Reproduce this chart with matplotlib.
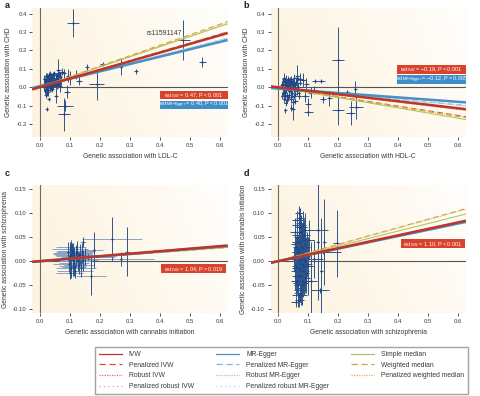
import numpy as np
import matplotlib
matplotlib.use("Agg")
import matplotlib.pyplot as plt
from matplotlib.patches import Rectangle
from matplotlib.lines import Line2D

plt.rcParams["font.family"] = ["Liberation Sans", "DejaVu Sans"]

# =====================================================
# DATA
# =====================================================

methods = ["IVW", "Penalized IVW", "Robust IVW", "Penalized robust IVW",
           "MR-Egger", "Penalized MR-Egger", "Robust MR-Egger", "Penalized robust MR-Egger",
           "Simple median", "Weighted median", "Penalized weighted median"]

x_ticks = [0.0, 0.1, 0.2, 0.3, 0.4, 0.5, 0.6]
x_tick_labels = ["0.0", "0.1", "0.2", "0.3", "0.4", "0.5", "0.6"]
y_ticks_ab = [-0.2, -0.1, 0.0, 0.1, 0.2, 0.3, 0.4]
y_tick_labels_ab = ["-0.2", "-0.1", "0.0", "0.1", "0.2", "0.3", "0.4"]
y_ticks_cd = [-0.10, -0.05, 0.0, 0.05, 0.10, 0.15]
y_tick_labels_cd = ["-0.10", "-0.05", "0.00", "0.05", "0.10", "0.15"]

# panel a: LDL-C -> CHD
a_x = [0.015, 0.018, 0.020, 0.022, 0.024, 0.025, 0.026, 0.028, 0.030, 0.031,
       0.033, 0.035, 0.036, 0.038, 0.040, 0.042, 0.044, 0.045, 0.047, 0.050,
       0.016, 0.019, 0.021, 0.023, 0.027, 0.029, 0.032, 0.034, 0.037, 0.039,
       0.041, 0.043, 0.046, 0.048, 0.017, 0.024, 0.030, 0.036, 0.026, 0.033,
       0.110, 0.479, 0.542, 0.321, 0.270, 0.190, 0.210, 0.157, 0.130, 0.084,
       0.081, 0.090, 0.100, 0.023, 0.030, 0.062, 0.075, 0.080, 0.120, 0.055,
       0.068, 0.095]
a_y = [0.010, 0.030, -0.010, 0.040, 0.020, 0.055, 0.000, 0.035, 0.015, 0.060,
       0.045, -0.005, 0.025, 0.065, 0.030, 0.050, 0.010, 0.070, 0.040, 0.020,
       0.045, -0.020, 0.025, 0.005, 0.050, -0.015, 0.065, 0.020, 0.040, 0.000,
       0.055, 0.015, 0.030, 0.075, 0.035, -0.030, 0.045, 0.010, 0.020, 0.070,
       0.350, 0.257, 0.137, 0.087, 0.112, 0.016, 0.127, 0.108, 0.036, -0.100,
       -0.147, -0.025, 0.050, -0.118, -0.065, 0.094, 0.085, 0.075, 0.068, -0.045,
       0.005, 0.062]
a_xerr = [0.004, 0.005, 0.004, 0.006, 0.005, 0.006, 0.004, 0.005, 0.006, 0.005,
          0.006, 0.004, 0.005, 0.006, 0.005, 0.006, 0.004, 0.007, 0.005, 0.006,
          0.004, 0.005, 0.004, 0.005, 0.006, 0.004, 0.006, 0.005, 0.005, 0.004,
          0.006, 0.005, 0.005, 0.007, 0.004, 0.005, 0.006, 0.005, 0.004, 0.006,
          0.020, 0.022, 0.012, 0.008, 0.005, 0.025, 0.008, 0.006, 0.010, 0.027,
          0.020, 0.010, 0.012, 0.004, 0.004, 0.008, 0.010, 0.008, 0.010, 0.006,
          0.006, 0.008]
a_yerr = [0.015, 0.020, 0.018, 0.022, 0.015, 0.020, 0.025, 0.018, 0.020, 0.015,
          0.022, 0.018, 0.020, 0.015, 0.025, 0.018, 0.020, 0.015, 0.022, 0.018,
          0.020, 0.015, 0.018, 0.022, 0.015, 0.020, 0.018, 0.025, 0.015, 0.020,
          0.018, 0.022, 0.020, 0.015, 0.018, 0.020, 0.015, 0.025, 0.018, 0.020,
          0.075, 0.110, 0.025, 0.015, 0.045, 0.085, 0.010, 0.020, 0.025, 0.030,
          0.090, 0.035, 0.040, 0.012, 0.012, 0.060, 0.020, 0.025, 0.025, 0.040,
          0.030, 0.035]
# more variants in the dense cluster of panel a
a_x2 = [0.013, 0.052, 0.055, 0.058, 0.060, 0.063, 0.065, 0.068, 0.070, 0.014,
        0.020, 0.027, 0.034, 0.042, 0.049, 0.056, 0.061, 0.066, 0.022, 0.031,
        0.038, 0.045, 0.053, 0.059, 0.064]
a_y2 = [0.000, 0.030, 0.065, 0.010, 0.045, 0.075, 0.025, 0.055, 0.040, 0.020,
        0.060, -0.025, 0.005, -0.010, 0.068, 0.050, 0.020, 0.070, -0.040, 0.028,
        0.052, 0.008, 0.015, 0.060, 0.035]
a_xerr2 = [0.005, 0.007, 0.006, 0.008, 0.006, 0.007, 0.005, 0.008, 0.006, 0.005,
           0.006, 0.005, 0.007, 0.006, 0.008, 0.006, 0.007, 0.005, 0.006, 0.007,
           0.005, 0.006, 0.008, 0.006, 0.007]
a_yerr2 = [0.018, 0.020, 0.015, 0.022, 0.018, 0.015, 0.020, 0.018, 0.025, 0.015,
           0.018, 0.020, 0.022, 0.018, 0.015, 0.020, 0.025, 0.015, 0.018, 0.020,
           0.015, 0.022, 0.018, 0.020, 0.015]
a_slope = [0.47, 0.48, 0.47, 0.48, 0.40, 0.41, 0.42, 0.42, 0.55, 0.57, 0.56]
a_icpt = [0.0, 0.0, 0.0, 0.0, 0.006, 0.005, 0.005, 0.005, 0.0, 0.0, 0.0]

# panel b: HDL-C -> CHD
b_x = [0.014, 0.016, 0.018, 0.020, 0.022, 0.024, 0.026, 0.028, 0.030, 0.032,
       0.034, 0.036, 0.038, 0.040, 0.042, 0.045, 0.048, 0.050, 0.053, 0.056,
       0.015, 0.019, 0.023, 0.027, 0.031, 0.035, 0.039, 0.044, 0.047, 0.058,
       0.017, 0.021, 0.025, 0.029, 0.033, 0.037, 0.041, 0.046, 0.052, 0.060,
       0.201, 0.200, 0.243, 0.260, 0.258, 0.230, 0.171, 0.150, 0.142, 0.122,
       0.101, 0.100, 0.064, 0.075, 0.085, 0.090, 0.110, 0.025, 0.045, 0.050,
       0.120, 0.095]
b_y = [0.020, -0.010, 0.035, -0.030, 0.010, -0.050, 0.040, -0.015, 0.025, -0.060,
       0.000, 0.030, -0.040, 0.015, -0.020, 0.045, -0.005, -0.080, 0.020, -0.035,
       -0.045, 0.045, -0.025, 0.005, -0.070, 0.038, -0.010, -0.055, 0.025, 0.010,
       0.000, -0.065, 0.028, -0.040, 0.012, -0.020, 0.040, -0.030, -0.015, 0.030,
       0.148, -0.125, -0.141, -0.105, -0.010, -0.025, -0.060, -0.065, 0.033, 0.035,
       -0.136, -0.090, 0.060, 0.045, 0.040, -0.050, -0.030, -0.125, -0.110, -0.118,
       -0.015, 0.020]
b_xerr = [0.004, 0.005, 0.004, 0.006, 0.005, 0.006, 0.004, 0.005, 0.006, 0.005,
          0.006, 0.004, 0.005, 0.006, 0.005, 0.006, 0.004, 0.007, 0.005, 0.006,
          0.004, 0.005, 0.004, 0.005, 0.006, 0.004, 0.006, 0.005, 0.005, 0.004,
          0.006, 0.005, 0.005, 0.007, 0.004, 0.005, 0.006, 0.005, 0.004, 0.006,
          0.020, 0.020, 0.015, 0.022, 0.005, 0.008, 0.008, 0.010, 0.015, 0.008,
          0.015, 0.010, 0.008, 0.010, 0.010, 0.012, 0.010, 0.005, 0.006, 0.006,
          0.010, 0.008]
b_yerr = [0.015, 0.020, 0.018, 0.022, 0.015, 0.020, 0.025, 0.018, 0.020, 0.015,
          0.022, 0.018, 0.020, 0.015, 0.025, 0.018, 0.020, 0.015, 0.022, 0.018,
          0.020, 0.015, 0.018, 0.022, 0.015, 0.020, 0.018, 0.025, 0.015, 0.020,
          0.018, 0.022, 0.020, 0.015, 0.018, 0.020, 0.015, 0.025, 0.018, 0.020,
          0.180, 0.080, 0.065, 0.070, 0.045, 0.010, 0.040, 0.020, 0.010, 0.010,
          0.020, 0.030, 0.060, 0.030, 0.040, 0.030, 0.030, 0.015, 0.020, 0.060,
          0.020, 0.030]
b_x2 = [0.013, 0.062, 0.065, 0.068, 0.070, 0.072, 0.055, 0.058, 0.020, 0.026,
        0.033, 0.039, 0.044, 0.049, 0.054, 0.018, 0.024, 0.030, 0.036, 0.043,
        0.051, 0.057, 0.063, 0.069, 0.028]
b_y2 = [0.010, -0.020, 0.040, 0.000, -0.045, 0.025, 0.050, -0.075, 0.050, -0.085,
        0.045, 0.020, -0.065, 0.035, -0.050, -0.030, 0.020, -0.050, 0.000, 0.030,
        0.010, -0.010, 0.050, -0.030, 0.000]
b_xerr2 = [0.005, 0.007, 0.006, 0.008, 0.006, 0.007, 0.005, 0.008, 0.006, 0.005,
           0.006, 0.005, 0.007, 0.006, 0.008, 0.006, 0.007, 0.005, 0.006, 0.007,
           0.005, 0.006, 0.008, 0.006, 0.007]
b_yerr2 = [0.018, 0.020, 0.015, 0.022, 0.018, 0.015, 0.020, 0.018, 0.025, 0.015,
           0.018, 0.020, 0.022, 0.018, 0.015, 0.020, 0.025, 0.015, 0.018, 0.020,
           0.015, 0.022, 0.018, 0.020, 0.015]
b_slope = [-0.19, -0.255, -0.20, -0.20, -0.12, -0.15, -0.155, -0.15, -0.28, -0.265, -0.26]
b_icpt = [0.0, 0.0, 0.0, 0.0, -0.007, -0.005, -0.004, -0.005, 0.0, 0.0, 0.0]

# panel c: cannabis initiation -> schizophrenia
c_x = [0.095, 0.098, 0.100, 0.102, 0.104, 0.106, 0.108, 0.110, 0.112, 0.114,
       0.116, 0.118, 0.120, 0.125, 0.130, 0.135, 0.140, 0.145, 0.150, 0.100,
       0.105, 0.110, 0.115, 0.120, 0.128, 0.138, 0.103, 0.108, 0.113, 0.140,
       0.240, 0.270, 0.292, 0.182, 0.170, 0.145, 0.130, 0.160]
c_y = [0.020, -0.005, 0.010, 0.025, -0.015, 0.005, 0.018, -0.010, 0.022, 0.000,
       0.012, -0.020, 0.008, 0.020, -0.008, 0.015, 0.022, 0.002, 0.010, -0.025,
       0.030, 0.005, -0.012, 0.018, 0.000, -0.015, 0.015, 0.022, -0.003, 0.012,
       0.046, 0.005, 0.020, 0.023, -0.031, 0.040, 0.012, 0.008]
c_xerr = [0.040, 0.055, 0.045, 0.060, 0.050, 0.040, 0.065, 0.045, 0.055, 0.050,
          0.040, 0.060, 0.045, 0.055, 0.050, 0.040, 0.045, 0.050, 0.055, 0.045,
          0.050, 0.060, 0.040, 0.055, 0.045, 0.050, 0.060, 0.045, 0.050, 0.040,
          0.100, 0.110, 0.010, 0.030, 0.050, 0.010, 0.080, 0.090]
c_yerr = [0.020, 0.018, 0.025, 0.015, 0.020, 0.022, 0.018, 0.020, 0.015, 0.025,
          0.018, 0.015, 0.020, 0.022, 0.018, 0.020, 0.015, 0.022, 0.018, 0.012,
          0.015, 0.020, 0.018, 0.015, 0.020, 0.018, 0.022, 0.015, 0.020, 0.015,
          0.045, 0.015, 0.050, 0.038, 0.040, 0.010, 0.008, 0.006]
c_slope = [0.052, 0.050, 0.049, 0.050, 0.050, 0.049, 0.048, 0.049, 0.047, 0.045, 0.046]
c_icpt = [0.0, 0.0, 0.0, 0.0, 0.0, 0.0, 0.0, 0.0, 0.0, 0.0, 0.0]

# panel d: schizophrenia -> cannabis initiation
d_x = [0.055, 0.058, 0.060, 0.062, 0.064, 0.066, 0.068, 0.070, 0.072, 0.074,
       0.076, 0.078, 0.080, 0.082, 0.084, 0.086, 0.088, 0.090, 0.092, 0.095,
       0.057, 0.061, 0.065, 0.069, 0.073, 0.077, 0.081, 0.085, 0.089, 0.093,
       0.059, 0.063, 0.067, 0.071, 0.075, 0.079, 0.083, 0.087, 0.091, 0.098,
       0.065, 0.070, 0.075, 0.080, 0.085, 0.068, 0.072, 0.078, 0.082, 0.074,
       0.132, 0.145, 0.155, 0.196, 0.132, 0.140, 0.110, 0.150, 0.105, 0.060,
       0.120, 0.100]
d_y = [0.005, -0.020, 0.030, -0.040, 0.050, 0.010, -0.060, 0.070, -0.005, 0.040,
       -0.030, 0.060, 0.015, -0.050, 0.025, -0.010, 0.045, 0.000, -0.025, 0.020,
       0.035, -0.045, 0.055, -0.015, 0.080, -0.070, 0.030, 0.065, -0.035, 0.010,
       -0.010, 0.040, -0.030, 0.020, -0.055, 0.050, -0.020, 0.005, 0.035, -0.005,
       0.075, 0.000, 0.090, -0.040, 0.045, 0.025, -0.065, 0.060, -0.010, 0.015,
       0.040, -0.020, 0.040, 0.037, 0.065, -0.060, -0.040, 0.020, 0.045, -0.085,
       0.005, -0.010]
d_xerr = [0.012, 0.015, 0.010, 0.018, 0.012, 0.020, 0.015, 0.012, 0.018, 0.015,
          0.010, 0.015, 0.020, 0.012, 0.015, 0.018, 0.012, 0.015, 0.010, 0.012,
          0.015, 0.012, 0.018, 0.015, 0.012, 0.020, 0.015, 0.012, 0.018, 0.015,
          0.012, 0.015, 0.010, 0.018, 0.015, 0.012, 0.020, 0.015, 0.012, 0.015,
          0.018, 0.012, 0.015, 0.020, 0.012, 0.015, 0.018, 0.012, 0.015, 0.020,
          0.005, 0.005, 0.005, 0.013, 0.036, 0.030, 0.020, 0.060, 0.015, 0.015,
          0.030, 0.020]
d_yerr = [0.025, 0.030, 0.020, 0.028, 0.032, 0.025, 0.020, 0.030, 0.035, 0.025,
          0.030, 0.028, 0.035, 0.025, 0.030, 0.022, 0.028, 0.035, 0.025, 0.030,
          0.028, 0.030, 0.025, 0.035, 0.028, 0.020, 0.030, 0.025, 0.028, 0.032,
          0.030, 0.025, 0.035, 0.028, 0.025, 0.030, 0.032, 0.035, 0.025, 0.028,
          0.030, 0.040, 0.020, 0.035, 0.030, 0.028, 0.020, 0.030, 0.035, 0.040,
          0.120, 0.110, 0.090, 0.070, 0.005, 0.005, 0.080, 0.005, 0.040, 0.010,
          0.040, 0.060]
d_x2 = [0.056, 0.060, 0.064, 0.068, 0.072, 0.076, 0.080, 0.084, 0.088, 0.092,
        0.096, 0.062, 0.066, 0.070, 0.074, 0.078, 0.082, 0.086, 0.090, 0.058,
        0.071, 0.077, 0.083, 0.069, 0.075]
d_y2 = [0.060, -0.015, 0.085, -0.050, 0.040, 0.070, -0.060, 0.010, 0.055, -0.040,
        0.030, 0.020, -0.070, 0.100, -0.030, 0.005, 0.075, -0.045, 0.065, -0.030,
        -0.080, 0.030, -0.005, 0.060, -0.020]
d_xerr2 = [0.015, 0.012, 0.018, 0.015, 0.012, 0.020, 0.015, 0.012, 0.018, 0.015,
           0.012, 0.015, 0.018, 0.012, 0.015, 0.020, 0.012, 0.015, 0.018, 0.012,
           0.015, 0.012, 0.018, 0.015, 0.012]
d_yerr2 = [0.030, 0.025, 0.020, 0.030, 0.035, 0.025, 0.030, 0.028, 0.032, 0.025,
           0.030, 0.035, 0.025, 0.015, 0.030, 0.028, 0.030, 0.025, 0.035, 0.030,
           0.015, 0.030, 0.025, 0.030, 0.035]
d_slope = [0.134, 0.134, 0.133, 0.134, 0.130, 0.131, 0.132, 0.131, 0.156, 0.174, 0.172]
d_icpt = [0.0, 0.0, 0.0, 0.0, 0.0, 0.0, 0.0, 0.0, 0.0, 0.0, 0.0]

# estimate boxes: (text, colour)
a_boxes = [("est$_\\mathregular{IVW}$ = 0.47, P < 0.001", "#d8432c"),
           ("est$_\\mathregular{MR{-}Egger}$ = 0.40, P < 0.001", "#3f8ec8")]
b_boxes = [("est$_\\mathregular{IVW}$ = \u22120.19, P < 0.001", "#d8432c"),
           ("est$_\\mathregular{MR{-}Egger}$ = \u22120.12, P = 0.005", "#3f8ec8")]
c_boxes = [("est$_\\mathregular{IVW}$ = 1.04, P = 0.019", "#d8432c")]
d_boxes = [("est$_\\mathregular{IVW}$ = 1.10, P < 0.001", "#d8432c")]

# =====================================================
# STYLE
# =====================================================

colors = ["#bd3528", "#d2503f", "#d9735f", "#e39a8c",
          "#4a8fc6", "#85b4d8", "#9dc4df", "#b6d5e9",
          "#b2c46a", "#c9a24c", "#e2b23a"]
styles = ["-", (0, (5, 3)), (0, (1, 1)), (0, (1, 2.5)),
          "-", (0, (5, 3)), (0, (1, 1)), (0, (1, 2.5)),
          "-", (0, (5, 3)), (0, (1, 1))]
TXT = "#3a3a3a"
PT_COLOR = "#1b4584"
BAR_COLOR = "#30558b"
XLIM = (-0.025, 0.627)
LABEL_FS = 4.9
TICK_FS = 4.3

fig = plt.figure(figsize=(4.8, 3.96), dpi=100)

W, H = 480.0, 396.0
pos = {
    "a": [32.2 / W, 1 - 137.3 / H, 195.5 / W, 129.3 / H],
    "b": [270.5 / W, 1 - 137.3 / H, 195.5 / W, 129.3 / H],
    "c": [32.2 / W, 1 - 313.3 / H, 195.5 / W, 128.3 / H],
    "d": [270.5 / W, 1 - 313.3 / H, 195.5 / W, 128.3 / H],
}


def background(ax):
    nx, ny = 200, 120
    u = np.linspace(0, 1, nx)[None, :]
    v = np.linspace(0, 1, ny)[:, None]
    t = np.clip(1 - (u * 0.85 + v * 0.25), 0, 1) ** 0.8
    img = np.zeros((ny, nx, 4))
    img[..., 0] = 0.99
    img[..., 1] = 0.91
    img[..., 2] = 0.76
    img[..., 3] = 0.08 + 0.45 * t
    ax.imshow(img, extent=[0, 1, 0, 1], transform=ax.transAxes,
              origin="lower", aspect="auto", zorder=0, interpolation="bilinear")


def panel(key, xs, ys, xe, ye, slopes, icpts, ylim, yt, ytl, xlabel, ylabel,
          light_x=False):
    ax = fig.add_axes(pos[key])
    background(ax)
    ax.set_xlim(*XLIM)
    ax.set_ylim(*ylim)

    ax.axvline(0, color="#6b6b6b", lw=0.8, zorder=1)
    ax.plot([0, XLIM[1]], [0, 0], color="#555555", lw=0.8, zorder=1)

    xc = BAR_COLOR if not light_x else "#8aa3c6"
    ax.errorbar(xs, ys, xerr=xe, fmt="none", ecolor=xc, elinewidth=0.7, zorder=2)
    ax.errorbar(xs, ys, yerr=ye, fmt="none", ecolor=BAR_COLOR, elinewidth=0.7, zorder=2)
    ax.plot(xs, ys, "o", ms=1.6, color=PT_COLOR, mec="none", zorder=3)

    xx = np.array(XLIM)
    order = [1, 2, 3, 5, 6, 7, 8, 9, 10, 4, 0]
    for i in order:
        thick = i in (0, 4)
        ax.plot(xx, slopes[i] * xx + icpts[i], color=colors[i], ls=styles[i],
                lw=1.8 if thick else 0.8, zorder=5 + (2 if i == 0 else 1 if i == 4 else 0),
                solid_capstyle="butt")

    for sp in ax.spines.values():
        sp.set_visible(False)
    ax.set_xticks(x_ticks)
    ax.set_xticklabels(x_tick_labels)
    ax.set_yticks(yt)
    ax.set_yticklabels(ytl)
    ax.tick_params(axis="both", labelsize=TICK_FS, colors=TXT, length=2.5, width=0.6, pad=1.5)
    ax.set_xlabel(xlabel, fontsize=LABEL_FS, color=TXT, labelpad=4)
    ax.set_ylabel(ylabel, fontsize=LABEL_FS, color=TXT, labelpad=3)
    return ax


ax_a = panel("a", a_x + a_x2, a_y + a_y2, a_xerr + a_xerr2, a_yerr + a_yerr2,
             a_slope, a_icpt, (-0.272, 0.431), y_ticks_ab, y_tick_labels_ab,
             "Genetic association with LDL-C", "Genetic association with CHD")
ax_b = panel("b", b_x + b_x2, b_y + b_y2, b_xerr + b_xerr2, b_yerr + b_yerr2,
             b_slope, b_icpt, (-0.272, 0.431), y_ticks_ab, y_tick_labels_ab,
             "Genetic association with HDL-C", "Genetic association with CHD")
ax_c = panel("c", c_x, c_y, c_xerr, c_yerr, c_slope, c_icpt,
             (-0.108, 0.158), y_ticks_cd, y_tick_labels_cd,
             "Genetic association with cannabis initiation",
             "Genetic association with schizophrenia", light_x=True)
ax_d = panel("d", d_x + d_x2, d_y + d_y2, d_xerr + d_xerr2, d_yerr + d_yerr2,
             d_slope, d_icpt, (-0.108, 0.158), y_ticks_cd, y_tick_labels_cd,
             "Genetic association with schizophrenia",
             "Genetic association with cannabis initiation")

ax_a.text(0.474, 0.293, "rs11591147", ha="right", va="center", fontsize=4.9,
          color=TXT, zorder=9)

# estimate boxes (axes fraction: x0, x1, y0, y1)
box_geom = {
    "a": [(0.654, 1.0, 0.296, 0.360), (0.654, 1.0, 0.219, 0.283)],
    "b": [(0.645, 1.0, 0.490, 0.559), (0.645, 1.0, 0.412, 0.479)],
    "c": [(0.659, 0.991, 0.312, 0.384)],
    "d": [(0.668, 0.993, 0.507, 0.579)],
}
for ax, key, boxes in [(ax_a, "a", a_boxes), (ax_b, "b", b_boxes),
                       (ax_c, "c", c_boxes), (ax_d, "d", d_boxes)]:
    for (label, col), (x0, x1, y0, y1) in zip(boxes, box_geom[key]):
        ax.add_patch(Rectangle((x0, y0), x1 - x0, y1 - y0, transform=ax.transAxes,
                               facecolor=col, edgecolor="none", zorder=10, clip_on=False))
        ax.text((x0 + x1) / 2, (y0 + y1) / 2 - 0.004, label, transform=ax.transAxes,
                ha="center", va="center", fontsize=3.9, color="white", zorder=11)

for lab, (px, py) in zip("abcd", [(7, 6), (246, 6), (7, 173), (246, 173)]):
    fig.text(px / W, 1 - py / H, lab, fontsize=6.5, fontweight="bold",
             ha="center", va="center", color="#222222")

handles = [Line2D([], [], color=colors[i], ls=styles[i], lw=0.9) for i in range(len(methods))]
leg = fig.legend(handles, methods, loc="center",
                 bbox_to_anchor=(95 / W, 1 - 392 / H, 373 / W, 43 / H),
                 ncol=3, mode="expand", fontsize=4.9, frameon=True, fancybox=False,
                 handlelength=3.4, handletextpad=1.0, labelspacing=0.55,
                 borderpad=0.55, borderaxespad=0)
leg.get_frame().set_edgecolor("#8c8c8c")
leg.get_frame().set_linewidth(1.0)
for t in leg.get_texts():
    t.set_color(TXT)

fig.savefig("out.png", dpi=100)
